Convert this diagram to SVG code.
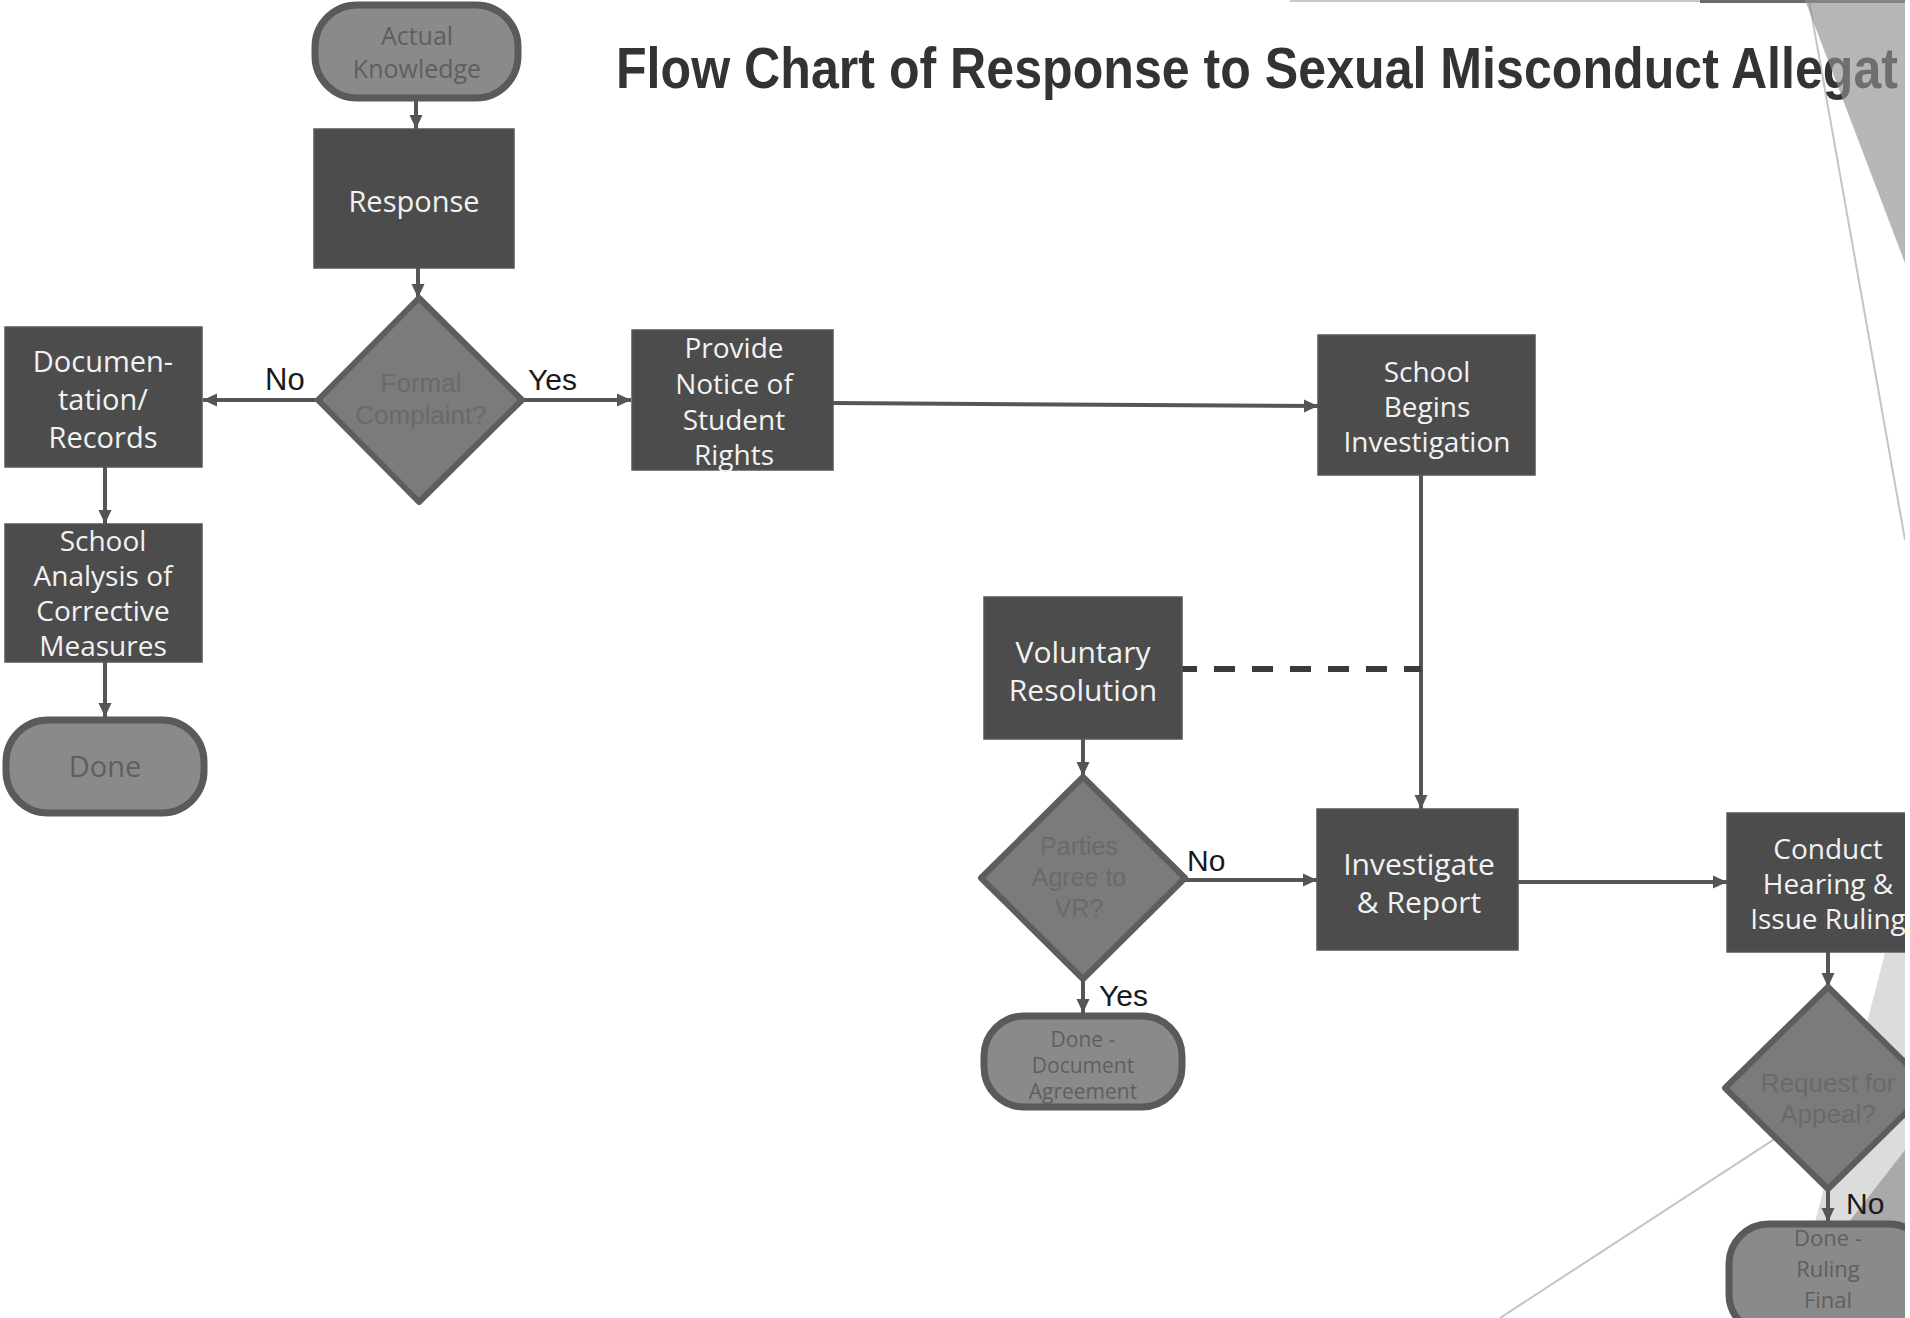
<svg xmlns="http://www.w3.org/2000/svg" width="1910" height="1318" viewBox="0 0 1910 1318">
<defs>
<marker id="arr" markerUnits="userSpaceOnUse" markerWidth="15" markerHeight="15" refX="14" refY="7.5" orient="auto">
<path d="M0,1 L14,7.5 L0,14 z" fill="#555"/>
</marker>
<style>
.box{fill:#4c4c4c;stroke:#555;stroke-width:1.5}
.term{fill:#8a8a8a;stroke:#5a5a5a;stroke-width:7}
.dia{fill:#7b7b7b;stroke:#5d5d5d;stroke-width:6;stroke-linejoin:round}
.bt{font-family:"Open Sans","Noto Sans",sans-serif;font-size:29px;fill:#f2f2f2;text-anchor:middle}
.tt{font-family:"Open Sans","Noto Sans",sans-serif;font-size:26px;fill:#5f5f5f;text-anchor:middle}
.dt{font-family:"Liberation Sans",Arial,sans-serif;font-size:26px;fill:#6a6a6a;text-anchor:middle}
.lbl{font-family:"Liberation Sans",Arial,sans-serif;font-size:30px;fill:#1a1a1a}
.con{fill:none;stroke:#555;stroke-width:4}
.deco{fill:none;stroke:#c4c4c4;stroke-width:2}
</style>
</defs>
<rect x="0" y="0" width="1910" height="1318" fill="#ffffff"/>

<g id="background">
<line class="deco" x1="1500" y1="1318" x2="1905" y2="1054"/>
<polygon points="1885,953 1905,953 1905,1318 1790,1318" fill="#dcdcdc"/>
<polygon points="1905,1150 1905,1240 1835,1240" fill="#a9a9a9"/>
<line class="deco" x1="1809" y1="0" x2="1905" y2="540"/>
<rect x="1290" y="0" width="615" height="2" fill="#c8c8c8"/>
<rect x="1700" y="0" width="205" height="3" fill="#6a6a6a"/>
</g>

<g id="title">
<text x="616" y="88" font-family="'Liberation Sans',Arial,sans-serif" font-weight="bold" font-size="57" fill="#333333" textLength="1282" lengthAdjust="spacingAndGlyphs">Flow Chart of Response to Sexual Misconduct Allegat</text>
</g>

<g id="connectors">
<line class="con" x1="416" y1="99" x2="416" y2="129" marker-end="url(#arr)"/>
<line class="con" x1="418" y1="268" x2="418" y2="298" marker-end="url(#arr)"/>
<line class="con" x1="318" y1="400" x2="203" y2="400" marker-end="url(#arr)"/>
<line class="con" x1="522" y1="400" x2="631" y2="400" marker-end="url(#arr)"/>
<line class="con" x1="105" y1="467" x2="105" y2="524" marker-end="url(#arr)"/>
<line class="con" x1="105" y1="662" x2="105" y2="717" marker-end="url(#arr)"/>
<line class="con" x1="833" y1="403" x2="1318" y2="406" marker-end="url(#arr)"/>
<line class="con" x1="1421" y1="475" x2="1421" y2="809" marker-end="url(#arr)"/>
<line x1="1178" y1="669" x2="1421" y2="669" stroke="#3a3a3a" stroke-width="6" stroke-dasharray="21 17" stroke-dashoffset="2"/>
<line class="con" x1="1083" y1="739" x2="1083" y2="776" marker-end="url(#arr)"/>
<line class="con" x1="1185" y1="880" x2="1317" y2="880" marker-end="url(#arr)"/>
<line class="con" x1="1083" y1="979" x2="1083" y2="1013" marker-end="url(#arr)"/>
<line class="con" x1="1518" y1="882" x2="1727" y2="882" marker-end="url(#arr)"/>
<line class="con" x1="1828" y1="952" x2="1828" y2="987" marker-end="url(#arr)"/>
<line class="con" x1="1828" y1="1189" x2="1828" y2="1222" marker-end="url(#arr)"/>
<text class="lbl" x="265" y="390" style="font-size:31px">No</text>
<text class="lbl" x="528" y="390">Yes</text>
<text class="lbl" x="1187" y="871">No</text>
<text class="lbl" x="1099" y="1006">Yes</text>
<text class="lbl" x="1846" y="1214">No</text>
</g>

<g id="actual-knowledge">
<rect class="term" x="315" y="5" width="203" height="93" rx="42"/>
<text class="tt" x="417" y="45" style="font-size:25px">Actual</text>
<text class="tt" x="417" y="78" style="font-size:25px">Knowledge</text>
</g>

<g id="response">
<rect class="box" x="314" y="129" width="200" height="139"/>
<text class="bt" x="414" y="212">Response</text>
</g>

<g id="formal-complaint">
<polygon class="dia" points="419,298 522,400 419,502 318,400"/>
<text class="dt" x="421" y="392">Formal</text>
<text class="dt" x="421" y="424">Complaint?</text>
</g>

<g id="documentation">
<rect class="box" x="5" y="327" width="197" height="140"/>
<text class="bt" x="103" y="372">Documen-</text>
<text class="bt" x="103" y="410">tation/</text>
<text class="bt" x="103" y="448">Records</text>
</g>

<g id="school-analysis">
<rect class="box" x="5" y="524" width="197" height="138"/>
<text class="bt" x="103" y="551" style="font-size:28px">School</text>
<text class="bt" x="103" y="586" style="font-size:28px">Analysis of</text>
<text class="bt" x="103" y="621" style="font-size:28px">Corrective</text>
<text class="bt" x="103" y="656" style="font-size:28px">Measures</text>
</g>

<g id="done">
<rect class="term" x="6" y="720" width="198" height="93" rx="42"/>
<text class="tt" x="105" y="777" style="font-size:29px">Done</text>
</g>

<g id="provide-notice">
<rect class="box" x="632" y="330" width="201" height="140"/>
<text class="bt" x="734" y="358" style="font-size:28px">Provide</text>
<text class="bt" x="734" y="394" style="font-size:28px">Notice of</text>
<text class="bt" x="734" y="430" style="font-size:28px">Student</text>
<text class="bt" x="734" y="465" style="font-size:28px">Rights</text>
</g>

<g id="school-begins">
<rect class="box" x="1318" y="335" width="217" height="140"/>
<text class="bt" x="1427" y="382" style="font-size:28px">School</text>
<text class="bt" x="1427" y="417" style="font-size:28px">Begins</text>
<text class="bt" x="1427" y="452" style="font-size:28px">Investigation</text>
</g>

<g id="voluntary-resolution">
<rect class="box" x="984" y="597" width="198" height="142"/>
<text class="bt" x="1083" y="663" style="font-size:30px">Voluntary</text>
<text class="bt" x="1083" y="701" style="font-size:30px">Resolution</text>
</g>

<g id="parties-agree">
<polygon class="dia" points="1083,777 1185,878 1083,979 981,878"/>
<text class="dt" x="1079" y="855" style="font-size:25px">Parties</text>
<text class="dt" x="1079" y="886" style="font-size:25px">Agree to</text>
<text class="dt" x="1079" y="917" style="font-size:25px">VR?</text>
</g>

<g id="done-document">
<rect class="term" x="984" y="1016" width="198" height="91" rx="40"/>
<text class="tt" x="1083" y="1047" style="font-size:21px">Done -</text>
<text class="tt" x="1083" y="1073" style="font-size:21px">Document</text>
<text class="tt" x="1083" y="1099" style="font-size:21px">Agreement</text>
</g>

<g id="investigate-report">
<rect class="box" x="1317" y="809" width="201" height="141"/>
<text class="bt" x="1419" y="875" style="font-size:30px">Investigate</text>
<text class="bt" x="1419" y="913" style="font-size:30px">&amp; Report</text>
</g>

<g id="conduct-hearing">
<rect class="box" x="1727" y="813" width="200" height="139"/>
<text class="bt" x="1828" y="859" style="font-size:28px">Conduct</text>
<text class="bt" x="1828" y="894" style="font-size:28px">Hearing &amp;</text>
<text class="bt" x="1828" y="929" style="font-size:28px">Issue Ruling</text>
</g>

<g id="request-appeal">
<polygon class="dia" points="1828,987 1931,1088 1828,1189 1725,1088"/>
<text class="dt" x="1828" y="1092">Request for</text>
<text class="dt" x="1828" y="1123">Appeal?</text>
</g>

<g id="done-ruling">
<rect class="term" x="1729" y="1224" width="200" height="110" rx="40"/>
<text class="tt" x="1828" y="1246" style="font-size:22px">Done -</text>
<text class="tt" x="1828" y="1277" style="font-size:22px">Ruling</text>
<text class="tt" x="1828" y="1308" style="font-size:22px">Final</text>
</g>

<g id="overlay">
<polygon points="1805,0 1905,0 1905,263" fill="#919191" fill-opacity="0.65"/>
<rect x="1905" y="0" width="5" height="1318" fill="#ffffff"/>
</g>
</svg>
